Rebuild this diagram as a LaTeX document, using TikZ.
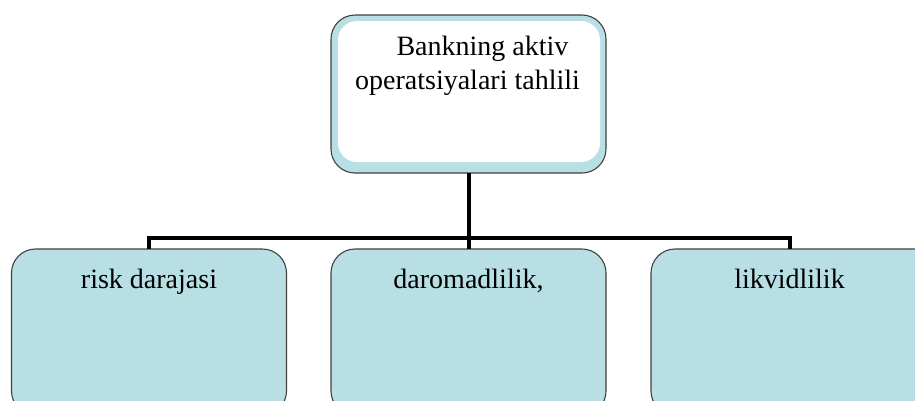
\documentclass[tikz,border=0pt]{standalone}
\usepackage{fontspec}
\setmainfont{Liberation Serif}
\definecolor{boxblue}{RGB}{184,223,227}
\definecolor{boxedge}{RGB}{64,64,64}
\tikzset{
  card/.style={draw=boxedge, line width=1.1pt, fill=boxblue, rounded corners=24pt,
    minimum width=275pt, inner sep=0pt, outer sep=0pt},
  lbl/.style={anchor=base, inner sep=0pt, font=\fontsize{28}{34}\selectfont},
  conn/.style={line width=4pt, black}
}
\begin{document}
\begin{tikzpicture}[x=1pt, y=-1pt]
\useasboundingbox (0,0) rectangle (915,400);
\clip (0,0) rectangle (915,400);
% top box
\node[card, minimum height=158pt, anchor=north] (top) at (468.5,15) {};
\fill[white, rounded corners=19pt] ([xshift=7pt,yshift=-6pt]top.north west) rectangle ([xshift=-6pt,yshift=11pt]top.south east);
\node[lbl] (t1) at ([xshift=14pt,yshift=-40pt]top.north) {Bankning aktiv};
\node[lbl] (t2) at ([xshift=-1pt,yshift=-74pt]top.north) {operatsiyalari tahlili};
% bottom boxes
\node[card, minimum height=166pt, anchor=north] (b1) at (149,249) {};
\node[card, minimum height=166pt, anchor=north] (b2) at (468.5,249) {};
\node[card, minimum height=166pt, minimum width=310pt, anchor=north west] (b3) at (651,249) {};
\coordinate (b3top) at ([xshift=138.5pt]b3.north west);
\node[lbl] (l1) at ([yshift=-39pt]b1.north) {risk darajasi};
\node[lbl] (l2) at ([yshift=-39pt]b2.north) {daromadlilik,};
\node[lbl] (l3) at ([yshift=-39pt]b3top) {likvidlilik};
% connectors
\coordinate (bus) at (468.5,238);
\draw[conn] (top.south) -- (b2.north);
\draw[conn] (b1.north) |- (bus) -| (b3top);
\end{tikzpicture}
\end{document}
